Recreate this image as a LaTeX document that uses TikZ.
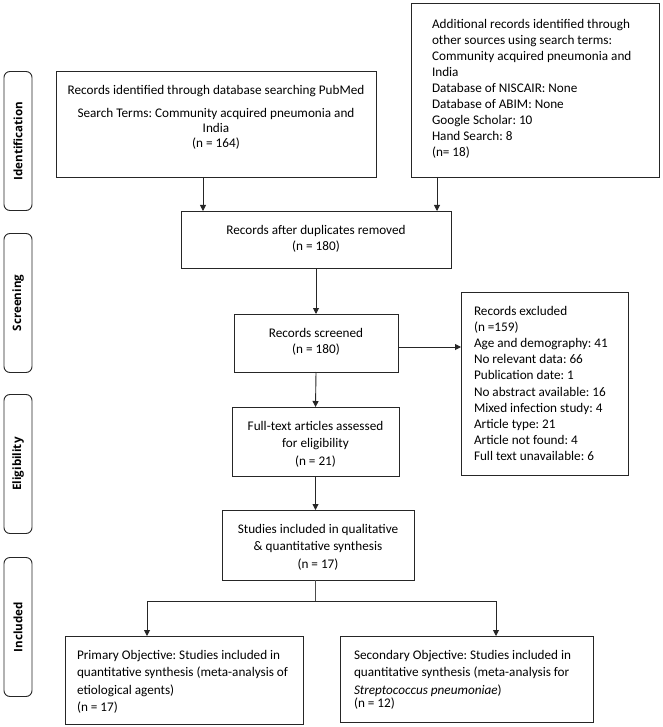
\documentclass[tikz,border=0pt]{standalone}
\usepackage{fontspec}
\setmainfont{Carlito}
\newfontfamily\sidefont{Open Sans}
\usepackage{tikz}
\usetikzlibrary{arrows.meta,calc}
\frenchspacing

\tikzset{
	box/.style={draw=black!85, line width=0.9pt, anchor=north west, inner ysep=0pt, outer sep=0pt,
		execute at begin node={\spaceskip=\fontdimen2\font\relax\xspaceskip=\fontdimen2\font\relax}},
	cbox/.style={box, align=center, inner xsep=4pt},
	lbox/.style={box, align=left},
	bs/.style={font=\fontsize{13.2}{#1}\selectfont},
	side/.style={draw=black!85, line width=0.9pt, rounded corners=6pt, rotate=90, inner sep=0pt,
		minimum width=139pt, minimum height=28pt, font=\sidefont\fontsize{11.6}{13}\selectfont\bfseries},
	flow/.style={draw=black!85, line width=0.9pt, -{Triangle[length=6pt,width=6pt]}},
	link/.style={draw=black!70, line width=0.9pt}
}

\begin{document}
\begin{tikzpicture}[x=1pt, y=-1pt]
	\useasboundingbox (0,0) rectangle (662,727);
	% stage bars
	\foreach \nm/\yc/\txt in {ident/141/Identification, screen/303/Screening, elig/464/Eligibility, incl/627/Included}
		\node[side] (\nm) at (18,\yc) {\txt};
	% boxes
	\node[cbox, bs=15, text width=312pt, text height=24pt, text depth=82pt] (recdb) at (56,71)
		{Records identified through database searching PubMed\\[8pt]Search Terms: Community acquired pneumonia and\\India\\(n = 164)};
	\node[lbox, bs=16, inner xsep=21pt, text width=206pt, text height=26pt, text depth=148pt] (other) at (411,3)
		{Additional records identified through\\other sources using search terms:\\Community acquired pneumonia and\\India\\Database of NISCAIR: None\\Database of ABIM: None\\Google Scholar: 10\\Hand Search: 8\\(n= 18)};
	\node[cbox, bs=16, text width=262pt, text height=23pt, text depth=34pt] (dup) at (181,211)
		{Records after duplicates removed\\(n = 180)};
	\node[cbox, bs=16, text width=156pt, text height=23pt, text depth=35pt] (screened) at (234,314)
		{Records screened\\(n = 180)};
	\node[lbox, bs=16.2, inner xsep=13pt, text width=141pt, text height=23pt, text depth=160pt] (excluded) at (461,292)
		{Records excluded\\(n =159)\\Age and demography: 41\\No relevant data: 66\\Publication date: 1\\No abstract available: 16\\Mixed infection study: 4\\Article type: 21\\Article not found: 4\\Full text unavailable: 6};
	\node[cbox, bs=17.8, text width=159pt, text height=23pt, text depth=46pt] (fulltext) at (232,407)
		{Full-text articles assessed\\for eligibility\\(n = 21)};
	\node[cbox, bs=17.5, text width=184pt, text height=23pt, text depth=47pt] (studies) at (222,510)
		{Studies included in qualitative\\\& quantitative synthesis\\(n = 17)};
	\node[lbox, bs=17.6, inner xsep=12pt, text width=214pt, text height=23pt, text depth=65pt] (primary) at (65,636)
		{Primary Objective: Studies included in\\quantitative synthesis (meta-analysis of\\etiological agents)\\(n = 17)};
	\node[lbox, bs=17.6, inner xsep=14pt, text width=225pt, text height=23pt, text depth=63pt] (secondary) at (340,636)
		{Secondary Objective: Studies included in\\quantitative synthesis (meta-analysis for\\\textit{Streptococcus pneumoniae})\\[-4.5pt](n = 12)};
	% arrows
	\coordinate (fromdb) at ([xshift=-13pt]recdb.south);
	\coordinate (fromother) at ([xshift=26pt]other.south west);
	\draw[flow] (fromdb) -- (fromdb |- dup.north);
	\draw[flow] (fromother) -- (fromother |- dup.north);
	\draw[flow] (dup.south) -- (screened.north);
	\coordinate (toexcl) at ([yshift=-4pt]screened.east);
	\draw[flow] (toexcl) -- (toexcl -| excluded.west);
	\draw[flow] (screened.south) -- (fulltext.north);
	\draw[flow] (fulltext.south) -- (fulltext.south |- studies.north);
	\coordinate (split) at ($(fulltext.south |- studies.south)+(0,21)$);
	\coordinate (toprim) at ([xshift=82pt]primary.north west);
	\coordinate (tosec) at ([xshift=156pt]secondary.north west);
	\draw[link] (fulltext.south |- studies.south) -- (split);
	\draw[flow] (split) -| (toprim);
	\draw[flow] (split) -| (tosec);
\end{tikzpicture}
\end{document}
